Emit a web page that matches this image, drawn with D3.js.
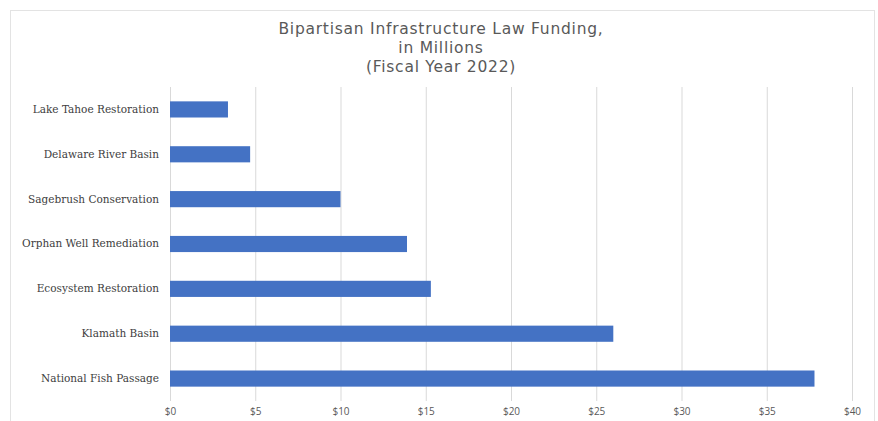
<!DOCTYPE html>
<html>
<head>
<meta charset="utf-8">
<script src="https://cdn.jsdelivr.net/npm/d3@7"></script>
<style>
  body { margin: 0; background: #fff; }
</style>
</head>
<body>
<svg id="chart" width="878" height="421"></svg>
<script>
const categories = ["Lake Tahoe Restoration", "Delaware River Basin", "Sagebrush Conservation",
    "Orphan Well Remediation", "Ecosystem Restoration", "Klamath Basin", "National Fish Passage"];
const funding = [3.4, 4.7, 10.0, 13.9, 15.3, 26.0, 37.8];
const xTicks = [0, 5, 10, 15, 20, 25, 30, 35, 40];
const titleLines = ["Bipartisan Infrastructure Law Funding,", "in Millions", "(Fiscal Year 2022)"];

const svg = d3.select("#chart");
const margin = {top: 87, left: 170, right: 26, bottom: 20};
const width = 878 - margin.left - margin.right;
const height = 401 - margin.top;

// chart frame
svg.append("rect")
    .attr("x", 10.5).attr("y", 10.5)
    .attr("width", 864).attr("height", 420)
    .attr("fill", "none")
    .attr("stroke", "#e3e3e3");

svg.append("g")
    .selectAll("text")
    .data(titleLines)
    .enter().append("text")
    .attr("x", 441)
    .attr("y", (d, i) => 34 + i * 19)
    .attr("text-anchor", "middle")
    .attr("font-family", "'DejaVu Sans', sans-serif")
    .attr("font-size", "15.5")
    .attr("letter-spacing", "0.75")
    .attr("fill", "#595959")
    .text(d => d);

const xScale = d3.scaleLinear().domain([0, 40]).range([0, width]);
const yScale = d3.scaleBand().domain(categories).range([0, height]).paddingInner(0.64).paddingOuter(0.32);

const focus = svg.append("g").attr("transform", `translate(${margin.left},${margin.top})`);

const xAxis = d3.axisBottom(xScale)
    .tickValues(xTicks)
    .tickSize(-height)
    .tickFormat(d => "$" + d);

const axisX = focus.append("g")
    .attr("transform", `translate(0,${height})`)
    .call(xAxis);
axisX.select(".domain").remove();
axisX.selectAll("line").attr("stroke", "#d9d9d9");
axisX.selectAll("text")
    .attr("dy", "1.05em")
    .attr("font-family", "'Open Sans', sans-serif")
    .attr("font-size", "10")
    .attr("fill", "#595959");

focus.selectAll(".bar")
    .data(categories)
    .enter().append("rect")
    .attr("class", "bar")
    .attr("x", xScale(0))
    .attr("y", d => yScale(d))
    .attr("height", yScale.bandwidth())
    .attr("width", (d, i) => xScale(funding[i]) - xScale(0))
    .attr("fill", "#4472c4");

const yAxis = d3.axisLeft(yScale).tickSize(0).tickPadding(11);
const axisY = focus.append("g").call(yAxis);
axisY.select(".domain").remove();
axisY.selectAll("text")
    .attr("font-family", "'DejaVu Serif', serif")
    .attr("font-size", "10.5")
    .attr("fill", "#404040");
</script>
</body>
</html>
